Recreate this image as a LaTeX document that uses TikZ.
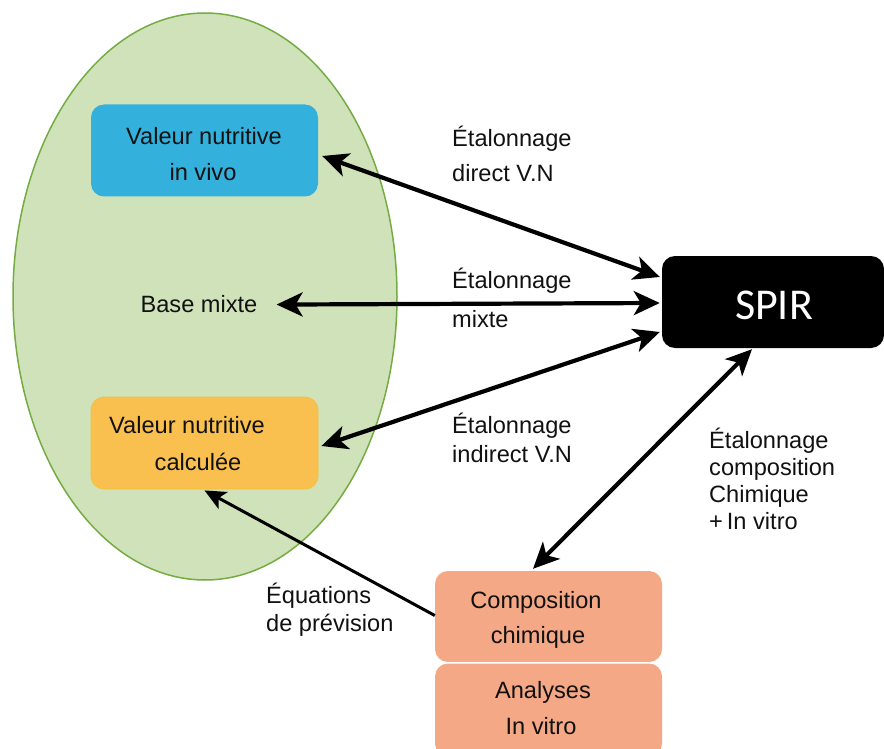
\documentclass[tikz,border=0pt]{standalone}
\usepackage{fontspec}
\setmainfont{Liberation Sans}
\newfontfamily\spirfont{Carlito}
\usetikzlibrary{arrows.meta,shapes.geometric}
\definecolor{ellfill}{HTML}{D0E2BA}
\definecolor{elldraw}{HTML}{74AC42}
\definecolor{bluebox}{HTML}{33B1DC}
\definecolor{yellowbox}{HTML}{F9C050}
\definecolor{yellowline}{HTML}{F3C23A}
\definecolor{salmonbox}{HTML}{F4A886}
\definecolor{txtcol}{HTML}{111111}
\tikzset{
  box/.style={rectangle, rounded corners=13pt, minimum width=227pt, minimum height=92pt, inner sep=0pt},
  txt/.style={font=\fontsize{23.6}{28}\selectfont, text=txtcol, inner sep=0pt},
  dbl/.style={line width=4.2pt, {Stealth[length=26pt,width=24pt,inset=7pt]}-{Stealth[length=26pt,width=24pt,inset=7pt]}},
  sgl/.style={line width=3pt, -{Stealth[length=21pt,width=19pt,inset=5pt]}},
}
\begin{document}
\begin{tikzpicture}[x=1pt,y=-1pt]
\useasboundingbox (0,0) rectangle (884,749);
% ellipse
\node[ellipse, draw=elldraw, line width=1.5pt, fill=ellfill, minimum width=384pt, minimum height=567pt, inner sep=0pt] (ell) at (205,296.5) {};
% boxes
\node[box, fill=bluebox] (blue) at (204.5,150.5) {};
\node[box, fill=yellowbox, draw=yellowline, line width=0.8pt] (calc) at (204.5,443) {};
\node[box, fill=salmonbox, minimum height=93pt] (ana) at (548.5,710) {};
\node[box, fill=salmonbox, minimum height=91pt] (comp) at (548.5,616.5) {};
\draw[white, line width=0.8pt] (comp.south west) ++(8pt,0) -- ([xshift=-8pt]comp.south east);
\node[rectangle, rounded corners=13pt, minimum width=222pt, minimum height=92pt, fill=black, inner sep=0pt] (spir) at (773,302) {};
% texts
\node[txt, anchor=base] (blue1) at (204,145) {Valeur nutritive};
\node[txt, anchor=base] (blue2) at (203,181) {in vivo};
\node[txt, anchor=base west] (calc1) at (109,433) {Valeur nutritive};
\node[txt, anchor=base] (calc2) at (198,470) {calculée};
\node[txt, anchor=base] (bm) at (199,312) {Base mixte};
\node[txt, anchor=base] (comp1) at (536,608) {Composition};
\node[txt, anchor=base] (comp2) at (538,643) {chimique};
\node[txt, anchor=base] (ana1) at (543,698) {Analyses};
\node[txt, anchor=base] (ana2) at (541,734) {In vitro};
\node[font=\spirfont\fontsize{44}{50}\selectfont, text=white, anchor=base, inner sep=0pt] (spirtxt) at (774,319) {SPIR};
% labels
\node[txt, anchor=base west] (l1a) at (452,147) {Étalonnage};
\node[txt, anchor=base west] (l1b) at (452,182) {direct V.N};
\node[txt, anchor=base west] (l2a) at (452,288) {Étalonnage};
\node[txt, anchor=base west] (l2b) at (452,327) {mixte};
\node[txt, anchor=base west] (l3a) at (452,433) {Étalonnage};
\node[txt, anchor=base west] (l3b) at (452,462) {indirect V.N};
\node[txt, anchor=base west] (l4a) at (709,448) {Étalonnage};
\node[txt, anchor=base west] (l4b) at (709,475) {composition};
\node[txt, anchor=base west] (l4c) at (709,502) {Chimique};
\node[txt, anchor=base west] (l4d) at (709,529) {+\,In vitro};
\node[txt, anchor=base west] (l5a) at (266,603) {Équations};
\node[txt, anchor=base west] (l5b) at (266,631) {de prévision};
% connectors
\draw[dbl] ([xshift=4pt,yshift=-5.5pt]blue.east) -- ([xshift=-2pt,yshift=25pt]spir.west);
\draw[dbl] ([xshift=19pt,yshift=-1pt]bm.east) -- ([xshift=-2pt,yshift=-1pt]spir.west);
\draw[dbl] ([xshift=3pt,yshift=-3pt]calc.east) -- ([xshift=-2pt,yshift=-30pt]spir.west);
\draw[dbl] ([xshift=-21pt,yshift=-1pt]spir.south) -- ([xshift=-15.5pt,yshift=2pt]comp.north);
\draw[sgl] ([yshift=1pt]comp.west) -- ([yshift=-1pt]calc.south);
\end{tikzpicture}
\end{document}
